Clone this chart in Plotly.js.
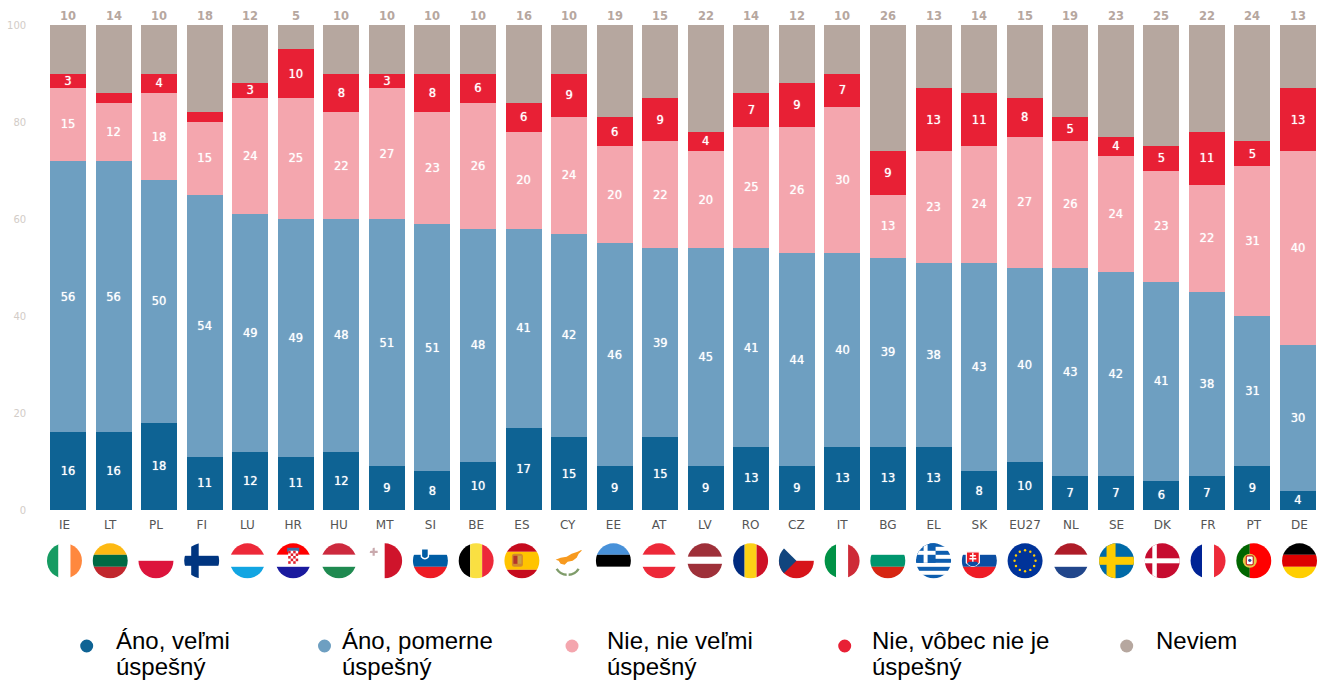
<!DOCTYPE html>
<html>
<head>
<meta charset="utf-8">
<script src="https://cdn.plot.ly/plotly-3.0.1.min.js"></script>
<style>html,body{margin:0;padding:0;background:#fff;overflow:hidden}#chart{width:1323px;height:680px}</style>
</head>
<body>
<div id="chart"></div>
<script>
const categories = ['IE','LT','PL','FI','LU','HR','HU','MT','SI','BE','ES','CY','EE','AT','LV','RO','CZ','IT','BG','EL','SK','EU27','NL','SE','DK','FR','PT','DE'];
const anoVelmi   = [16,16,18,11,12,11,12,9,8,10,17,15,9,15,9,13,9,13,13,13,8,10,7,7,6,7,9,4];
const anoPomerne = [56,56,50,54,49,49,48,51,51,48,41,42,46,39,45,41,44,40,39,38,43,40,43,42,41,38,31,30];
const nieVelmi   = [15,12,18,15,24,25,22,27,23,26,20,24,20,22,20,25,26,30,13,23,24,27,26,24,23,22,31,40];
const nieVobec   = [3,2,4,2,3,10,8,3,8,6,6,9,6,9,4,7,9,7,9,13,11,8,5,4,5,11,5,13];
const neviem     = [10,14,10,18,12,5,10,10,10,10,16,10,19,15,22,14,12,10,26,13,14,15,19,23,25,22,24,13];
const yTicks = [0,20,40,60,80,100];
const seriesNames = ['Áno, veľmi úspešný','Áno, pomerne úspešný','Nie, nie veľmi úspešný','Nie, vôbec nie je úspešný','Neviem'];
const legendLines = [['Áno, veľmi','úspešný'],['Áno, pomerne','úspešný'],['Nie, nie veľmi','úspešný'],['Nie, vôbec nie je','úspešný'],['Neviem']];
const seriesColors = ['#0e6394','#6e9fc1','#f4a6ae','#e82035','#b6a79f'];

const W = 1323, H = 680;
const px = v => v / W, py = v => 1 - v / H;

// ---- flags (simple circular SVG icons) ----
const hs = (a,b,c,p=[12,24]) => `<rect width="36" height="${p[0]}" fill="${a}"/><rect y="${p[0]}" width="36" height="${p[1]-p[0]}" fill="${b}"/><rect y="${p[1]}" width="36" height="${36-p[1]}" fill="${c}"/>`;
const vs = (a,b,c) => `<rect width="12" height="36" fill="${a}"/><rect x="12" width="12" height="36" fill="${b}"/><rect x="24" width="12" height="36" fill="${c}"/>`;
const euStars = [0,1,2,3,4,5,6,7,8,9,10,11].map(k => `<circle cx="${(18+10.5*Math.sin(k*Math.PI/6)).toFixed(2)}" cy="${(18-10.5*Math.cos(k*Math.PI/6)).toFixed(2)}" r="1.2" fill="#ffcc00"/>`).join('');
const checker = (() => { let s='<rect x="13" y="8" width="10" height="13" rx="1" fill="#fff"/>'; for(let r=0;r<5;r++)for(let c=0;c<4;c++) if((r+c)%2==0) s+=`<rect x="${13+c*2.5}" y="${8+r*2.6}" width="2.5" height="2.6" fill="#e0202c"/>`; return s; })();
const flagArt = {
  IE: vs('#169b62','#fff','#ff883e'),
  LT: hs('#fdb913','#006a44','#c1272d'),
  PL: '<rect width="36" height="18" fill="#fff"/><rect y="18" width="36" height="18" fill="#dc143c"/>',
  FI: '<rect width="36" height="36" fill="#fff"/><rect x="7.5" width="7.5" height="36" fill="#003580"/><rect y="13" width="36" height="10" fill="#003580"/>',
  LU: hs('#ed2939','#fff','#12a5e2'),
  HR: hs('#f00','#fff','#1a1a9e') + '<rect x="12" y="5" width="12" height="4" fill="#3a6ea5"/>' + checker,
  HU: hs('#cd2a3e','#fff','#1f8a50'),
  MT: '<rect width="18" height="36" fill="#fff"/><rect x="18" width="18" height="36" fill="#cf142b"/><path d="M3 9h8M7 5v8" stroke="#c9a9ad" stroke-width="2.2"/>',
  SI: hs('#fff','#005da4','#ed1c24') + '<path d="M9 6h7v8q-3.5 4-7 0z" fill="#005da4" stroke="#fff" stroke-width="1.4"/>',
  BE: vs('#000','#fae042','#ed2939'),
  ES: hs('#c60b1e','#ffc400','#c60b1e',[9,27]) + '<rect x="8" y="11" width="11" height="13" rx="2.5" fill="#d28a2e"/><rect x="9.5" y="13" width="4" height="8" fill="#b3352b"/><rect x="14" y="13" width="3.5" height="8" fill="#c9a24a"/>',
  CY: '<rect width="36" height="36" fill="#fff"/><path d="M6 17l5-2 6-1 5-3 6-2 6-3-5 5-2 4-4 3-5 1-3 3-4-1-2-3z" fill="#f79a1f"/><path d="M7 26q4 6 10 6M29 26q-4 6-10 6" stroke="#7f9c6a" stroke-width="2.4" fill="none"/>',
  EE: hs('#4891d9','#000','#fff'),
  AT: hs('#ed2939','#fff','#ed2939'),
  LV: hs('#9e3039','#fff','#9e3039',[14,21]),
  RO: vs('#002b7f','#fcd116','#ce1126'),
  CZ: '<rect width="36" height="18" fill="#fff"/><rect y="18" width="36" height="18" fill="#d7141a"/><path d="M0 0L18 18L0 36z" fill="#11457e"/>',
  IT: vs('#009246','#fff','#ce2b37'),
  BG: hs('#fff','#00966e','#d62612'),
  EL: '<rect width="36" height="36" fill="#fff"/>' + [0,8,16,24,32].map(y=>`<rect y="${y}" width="36" height="4" fill="#0d5eaf"/>`).join('') + '<rect width="20" height="20" fill="#0d5eaf"/><rect x="8" width="4" height="20" fill="#fff"/><rect y="8" width="20" height="4" fill="#fff"/>',
  SK: hs('#fff','#0b4ea2','#ee1c25') + '<path d="M5 9h13v11q-6.5 7-13 0z" fill="#ee1c25" stroke="#fff" stroke-width="1.2"/><path d="M11.5 10v11M8.5 13h6M8 16h7" stroke="#fff" stroke-width="1.4"/><path d="M6 21q5.5 5 11 0l-1.5-2h-8z" fill="#0b4ea2"/>',
  EU27: '<rect width="36" height="36" fill="#003399"/>' + euStars,
  NL: hs('#ae1c28','#fff','#21468b'),
  SE: '<rect width="36" height="36" fill="#006aa7"/><rect x="8" width="9" height="36" fill="#fecc00"/><rect y="14" width="36" height="8" fill="#fecc00"/>',
  DK: '<rect width="36" height="36" fill="#c60c30"/><rect x="8" width="4.5" height="36" fill="#fff"/><rect y="15.5" width="36" height="5" fill="#fff"/>',
  FR: vs('#002395','#fff','#ed2939'),
  PT: '<rect width="14" height="36" fill="#006600"/><rect x="14" width="22" height="36" fill="#f00"/><circle cx="14" cy="18" r="7" fill="#e6c84a"/><rect x="10.5" y="13" width="7" height="9" rx="1.5" fill="#fff" stroke="#c22" stroke-width="1.2"/><circle cx="14" cy="17.5" r="1.6" fill="#2a4a9a"/>',
  DE: hs('#000','#d00','#ffce00')
};
const flagUri = c => 'data:image/svg+xml;charset=utf-8,' + encodeURIComponent(
  `<svg xmlns="http://www.w3.org/2000/svg" width="72" height="72" viewBox="0 0 36 36"><defs><clipPath id="c"><circle cx="18" cy="18" r="17.5"/></clipPath></defs><g clip-path="url(#c)">${flagArt[c]}</g></svg>`);

// ---- traces ----
const values = [anoVelmi, anoPomerne, nieVelmi, nieVobec];
const traces = values.map((v, i) => ({
  type: 'bar', name: seriesNames[i], x: categories, y: v,
  marker: {color: seriesColors[i], line: {width: 0}},
  text: v.map(n => n >= 3 ? String(n) : ''), textposition: 'inside', insidetextanchor: 'middle',
  textangle: 0, constraintext: 'none',
  textfont: {family: 'DejaVu Sans', size: 11.5, color: '#fff', shadow: '0 0 1px rgba(255,255,255,0.9)'},
  hoverinfo: 'name+x+y', showlegend: false
}));
traces.push({type:'bar', name: seriesNames[4], x: categories, y: neviem,
  marker:{color: seriesColors[4], line:{width:0}}, hoverinfo:'name+x+y', showlegend:false});
// carries the category labels on their own thin strip under the plot, slightly wider than the bars' axis
traces.push({type:'scatter', mode:'markers', x: categories, y: categories.map(()=>0), xaxis:'x2', yaxis:'y2',
  marker:{opacity:0,size:1}, hoverinfo:'skip', showlegend:false});

const images = categories.map(c => ({
  source: flagUri(c), xref:'x2', yref:'paper', x: categories.indexOf(c), y: py(560.8),
  sizex: 36/45.74, sizey: 36/H, xanchor:'center', yanchor:'middle', sizing:'contain', layer:'above'
}));

const legendDotX = [86.7,324.5,572,844.7,1126.7];
const legendTextX = [115,341,606,871,1155];
const shapes = legendDotX.map((x,i) => ({type:'circle', xref:'paper', yref:'paper',
  x0:px(x-6.5), x1:px(x+6.5), y0:py(646+6.5), y1:py(646-6.5), fillcolor:seriesColors[i], line:{width:0}}));
const annotations = [];
legendLines.forEach((lines,i) => lines.forEach((t,j) => annotations.push({
  xref:'paper', yref:'paper', x:px(legendTextX[i]), y:py(640+j*26.7), xanchor:'left', yanchor:'middle',
  text:t, showarrow:false, align:'left', borderpad:0, font:{family:'Liberation Sans', size:24, color:'#000'}
})));
// row above the bars shows the "Neviem" value
categories.forEach((c,i) => annotations.push({
  xref:'x', yref:'y', x:c, y:100, yanchor:'bottom', yshift:1, xanchor:'center', showarrow:false, borderpad:0,
  text:String(neviem[i]), font:{family:'DejaVu Sans', size:11.5, color:'#b6a79f', weight:'bold'}
}));

const layout = {
  width:W, height:H, margin:{l:0,r:0,t:0,b:0,pad:0}, autosize:false,
  paper_bgcolor:'#fff', plot_bgcolor:'rgba(0,0,0,0)', barmode:'stack', bargap:0.21, showlegend:false,
  font:{family:'DejaVu Sans'},
  xaxis:{domain:[px(45.2),px(1320.8)], type:'category', categoryorder:'array', categoryarray:categories,
    range:[-0.5,27.5], showticklabels:false, showgrid:false, zeroline:false, showline:false, ticks:'', anchor:'y'},
  xaxis2:{domain:[px(41.6),px(1322.4)], type:'category', categoryorder:'array', categoryarray:categories,
    range:[-0.5,27.5], anchor:'y2', side:'bottom', showgrid:false, zeroline:false, showline:false,
    ticks:'outside', ticklen:3, tickcolor:'rgba(0,0,0,0)', tickangle:0,
    tickfont:{family:'DejaVu Sans', size:12, color:'#555'}},
  yaxis:{domain:[1-510/H,1-25/H], range:[0,100], tickvals:yTicks, ticktext:yTicks.map(String), anchor:'x',
    showgrid:false, zeroline:false, showline:false, ticks:'outside', ticklen:16, tickcolor:'rgba(0,0,0,0)',
    tickfont:{family:'DejaVu Sans', size:10, color:'#d2ccc7'}},
  yaxis2:{domain:[1-511/H,1-510/H], range:[0,1], visible:false, anchor:'x2', fixedrange:true},
  images, shapes, annotations
};
Plotly.newPlot('chart', traces, layout, {displayModeBar:false, responsive:false});
</script>
</body>
</html>
